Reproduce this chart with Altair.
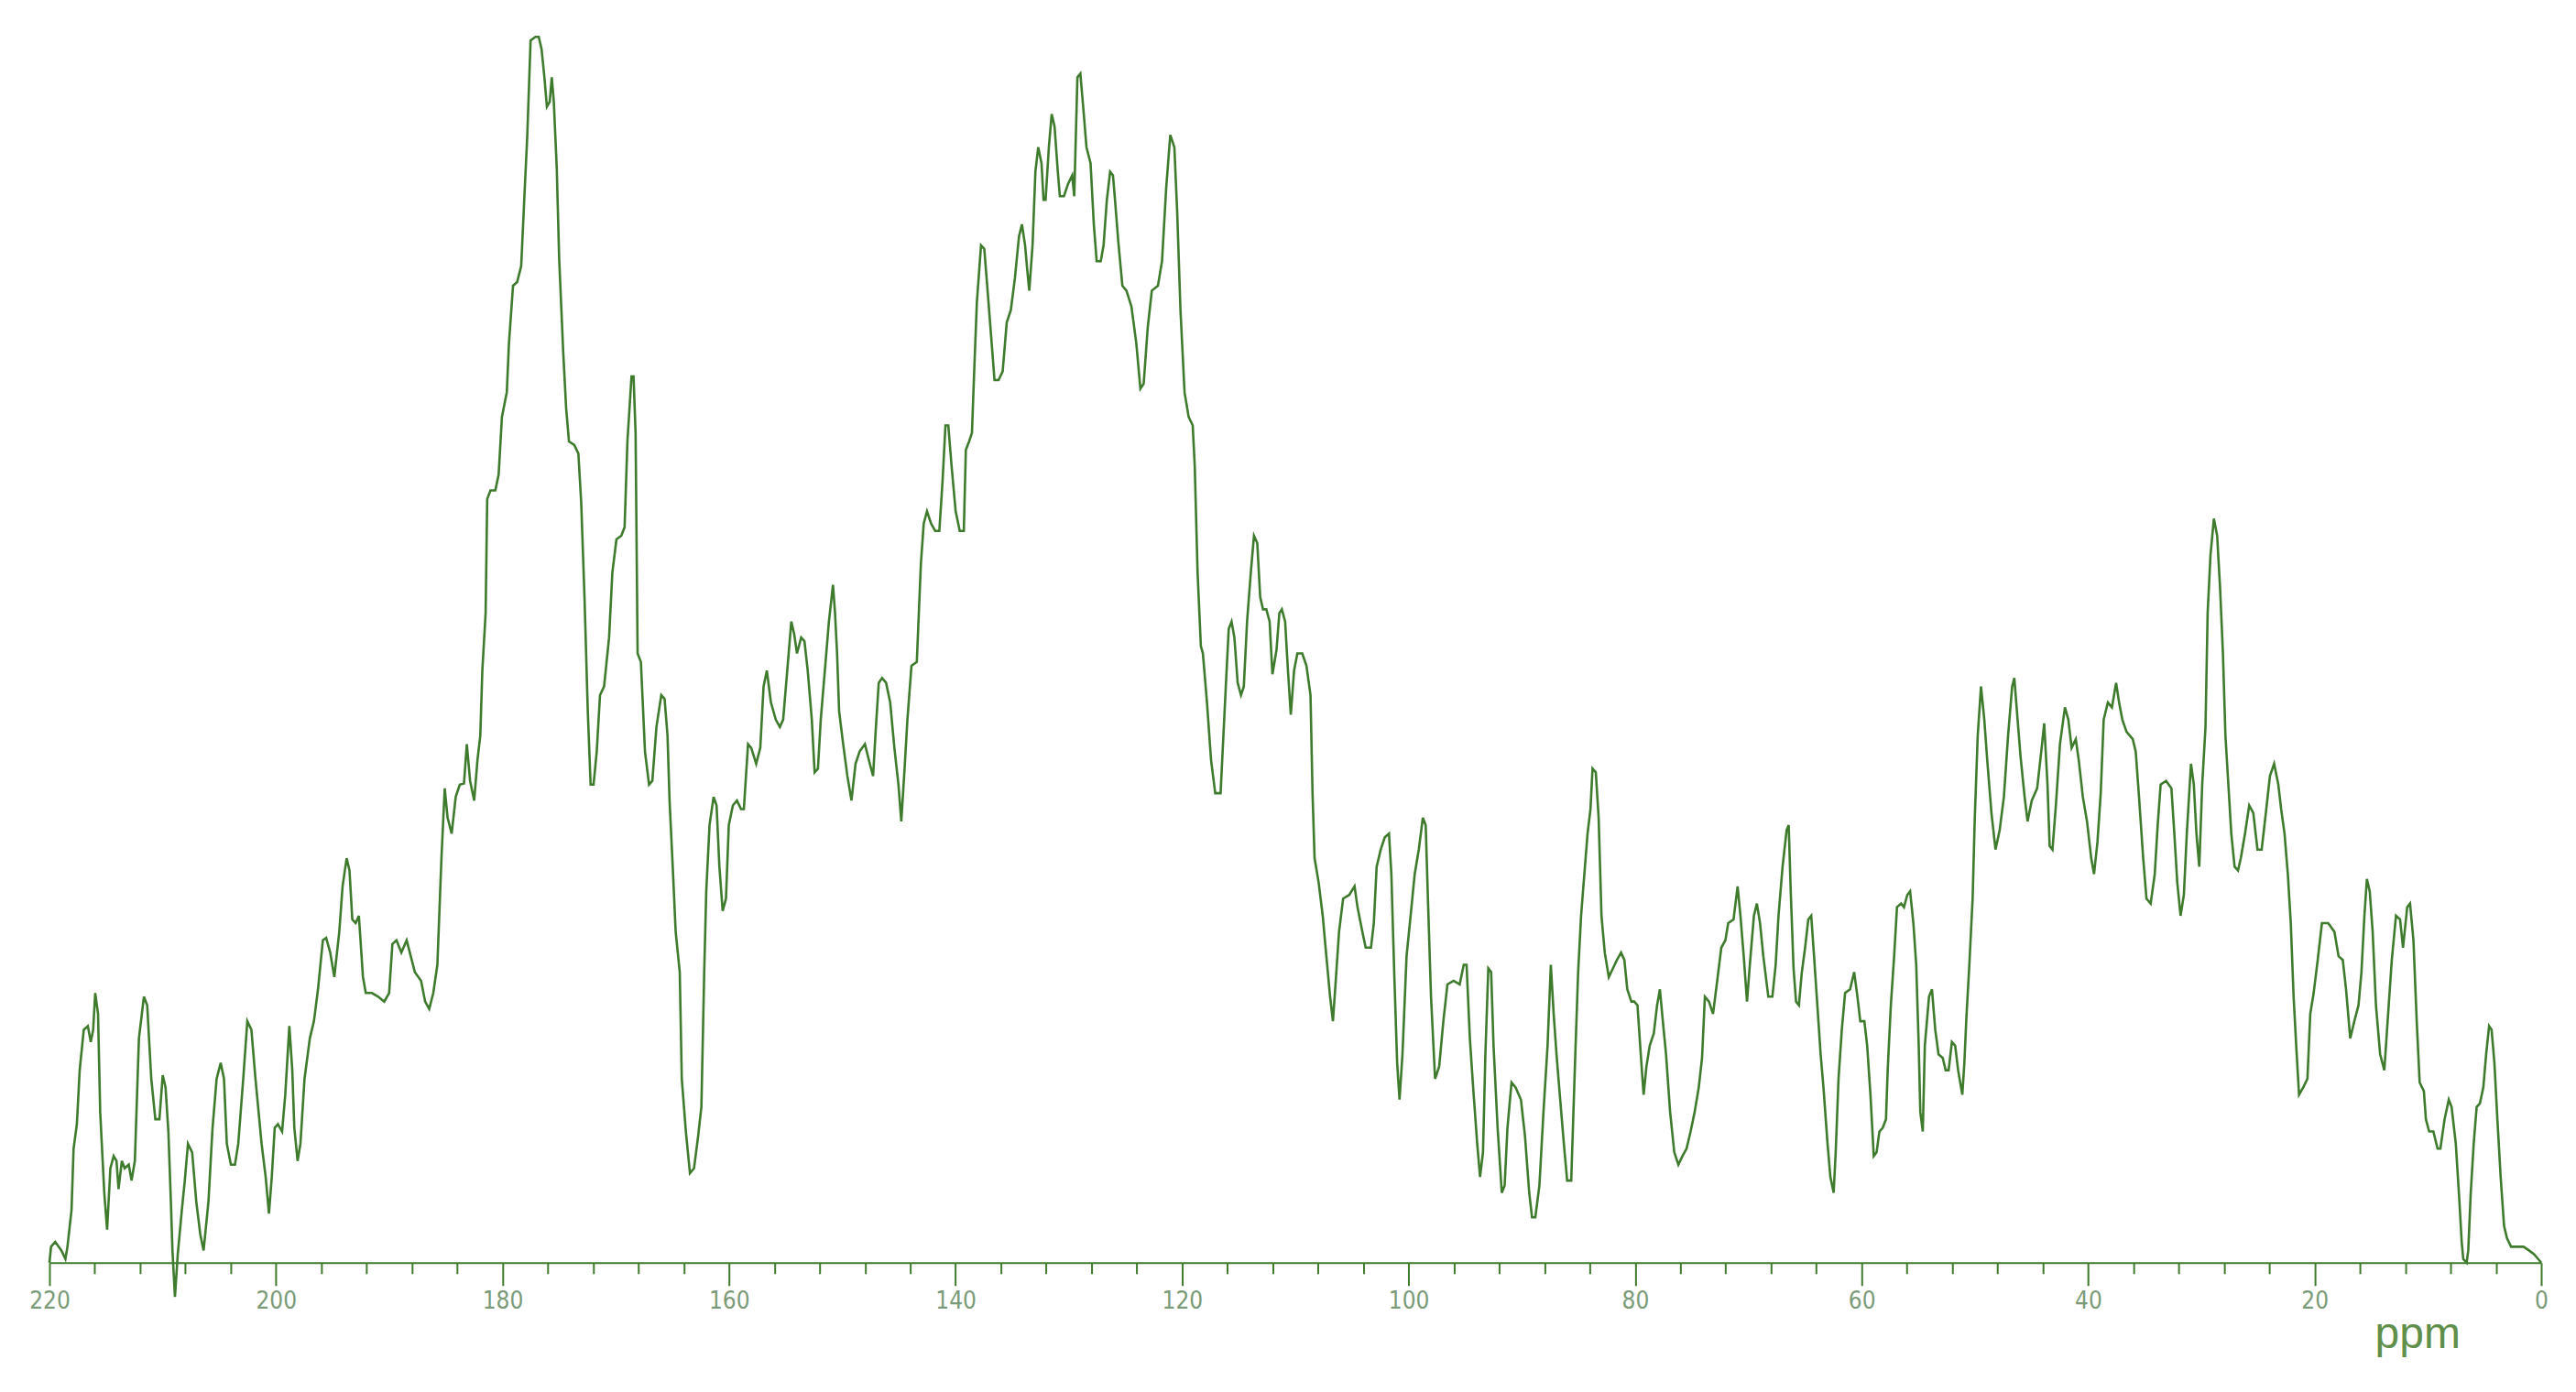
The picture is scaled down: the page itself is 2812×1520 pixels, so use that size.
import altair as alt
import pandas as pd

# 13C NMR spectrum: chemical shift (ppm) and relative intensity (%)
ppm_a = [220.0, 219.86, 219.49, 218.95, 218.59, 218.41, 218.05, 217.87, 217.58, 217.33,
         216.97, 216.61, 216.35, 216.14, 215.96, 215.71, 215.52, 215.16, 214.91, 214.62,
         214.33, 214.08, 213.90, 213.61, 213.36, 213.00, 212.75, 212.46, 212.10, 211.66,
         211.37, 211.01, 210.65, 210.29, 210.00, 209.75, 209.50, 209.28, 209.14, 208.92,
         208.67, 208.31, 208.05, 207.77, 207.40, 207.04, 206.68, 206.39, 205.96, 205.60,
         205.24, 204.88, 204.59, 204.34, 203.98, 203.62, 203.33, 202.89, 202.53, 202.17,
         201.81, 201.27, 200.91, 200.62, 200.37, 200.11, 199.83, 199.46, 199.18, 198.82,
         198.56, 198.38, 198.09, 197.84, 197.48, 197.01, 196.65, 196.29, 195.86, 195.57,
         195.21, 194.85, 194.41, 194.12, 193.76, 193.51, 193.26, 192.97, 192.68, 192.32,
         192.07, 191.53, 190.98, 190.44, 190.01, 189.72, 189.36, 188.93, 188.46, 188.10,
         187.74, 187.19, 186.83, 186.47, 186.11, 185.75, 185.39, 185.10, 184.85, 184.49,
         184.13, 183.77, 183.40, 183.15, 182.86, 182.50, 182.21, 181.96, 181.78, 181.49,
         181.35, 181.06, 180.63, 180.34, 180.05, 179.62, 179.43, 179.07, 178.71, 178.35,
         178.10, 177.81, 177.52, 177.09, 176.80, 176.55, 176.30, 176.08, 175.83, 175.65,
         175.47, 175.21, 175.00, 174.64, 174.38, 174.13, 173.66, 173.30, 173.05, 172.76,
         172.47, 172.22, 171.96, 171.68, 171.39, 171.03, 170.59, 170.30, 169.94, 169.51,
         169.22, 168.97, 168.61, 168.43, 168.25, 168.07]
int_a = [0, 1.3, 1.7, 1.0, 0.3, 1.3, 4.3, 9.3, 11.3, 15.7,
         19.0, 19.3, 18.0, 19.0, 22.0, 20.3, 12.3, 5.7, 2.7, 7.7,
         8.7, 8.3, 6.0, 8.3, 7.7, 8.0, 6.7, 8.3, 18.3, 21.7,
         21.0, 15.0, 11.7, 11.7, 15.3, 14.3, 10.7, 5.0, 1.0, -2.8,
         0.7, 4.3, 6.7, 9.7, 9.0, 5.0, 2.3, 1.0, 5.0, 11.0,
         15.0, 16.3, 15.0, 9.7, 8.0, 8.0, 9.7, 15.0, 19.7, 19.0,
         15.0, 9.7, 7.0, 4.0, 7.0, 11.0, 11.3, 10.7, 13.7, 19.3,
         15.7, 11.0, 8.3, 9.7, 15.0, 18.3, 19.7, 22.3, 26.3, 26.5,
         25.3, 23.3, 27.0, 30.7, 33.0, 32.0, 28.0, 27.7, 28.3, 23.3,
         22.0, 22.0, 21.7, 21.3, 22.0, 26.0, 26.3, 25.3, 26.3, 25.0,
         23.7, 23.0, 21.3, 20.7, 22.0, 24.3, 33.0, 38.7, 36.3, 35.0,
         38.0, 39.0, 39.1, 42.3, 39.3, 37.7, 41.0, 43.0, 48.3, 53.0,
         62.3, 63.0, 63.0, 64.3, 69.0, 71.0, 75.0, 79.7, 80.0, 81.3,
         86.3, 92.0, 99.7, 100, 100, 99.0, 96.7, 94.3, 94.7, 96.7,
         94.7, 89.3, 82.0, 74.3, 69.7, 67.0, 66.7, 66.0, 62.0, 54.3,
         45.0, 39.0, 39.0, 41.7, 46.3, 47.0, 51.0, 56.3, 59.0, 59.3,
         60.0, 67.0, 72.3, 72.3, 67.7, 49.7]

ppm_b = [167.78, 167.42, 167.06, 166.77, 166.41, 165.98, 165.69, 165.43, 165.25, 164.97,
         164.71, 164.35, 164.17, 163.81, 163.45, 163.09, 162.73, 162.44, 162.19, 162.01,
         161.72, 161.36, 161.10, 160.85, 160.56, 160.27, 160.02, 159.66, 159.30, 158.94,
         158.69, 158.32, 158.04, 157.60, 157.24, 156.95, 156.66, 156.30, 155.87, 155.51,
         155.22, 154.86, 154.50, 154.25, 154.00, 153.63, 153.34, 153.05, 152.69, 152.44,
         152.15, 151.90, 151.54, 151.18, 150.82, 150.64, 150.46, 150.28, 149.92, 149.55,
         149.19, 148.83, 148.47, 148.00, 147.57, 147.28, 147.03, 146.78, 146.49, 146.13,
         145.77, 145.40, 145.04, 144.79, 144.50, 144.25, 143.89, 143.42, 143.06, 142.81,
         142.52, 142.16, 141.80, 141.43, 141.15, 140.89, 140.64, 140.35, 139.99, 139.63,
         139.27, 139.09, 138.80, 138.55, 138.37, 138.12, 137.75, 137.46, 137.17, 136.81,
         136.56, 136.20, 135.84, 135.48, 135.12, 134.76, 134.40, 134.14, 133.86, 133.67,
         133.49, 133.20, 132.95, 132.70, 132.41, 132.23, 132.05, 131.76, 131.51, 131.26,
         130.97, 130.79, 130.43, 130.07, 129.70, 129.52, 129.24, 128.98, 128.73, 128.44,
         128.08, 127.79, 127.54, 127.18, 126.93, 126.64, 126.35, 126.10, 125.92, 125.63,
         125.27, 124.91, 124.47, 124.04, 123.68, 123.39, 123.03, 122.67, 122.13, 121.77,
         121.40, 121.04, 120.68, 120.43, 120.14, 119.78, 119.42, 119.06, 118.88, 118.63,
         118.34, 118.16, 117.80, 117.44, 117.07, 116.60, 116.35, 116.10, 115.88, 115.63,
         115.38, 115.09, 114.80, 114.55, 114.26, 113.93, 113.65, 113.36, 113.10, 112.85,
         112.56, 112.27, 112.02, 111.66, 111.41, 111.19]
int_b = [49.0, 41.7, 39.0, 39.3, 43.7, 46.3, 46.0, 43.0, 37.7, 32.3,
         27.0, 23.7, 15.0, 10.7, 7.3, 7.7, 10.3, 12.7, 23.7, 30.3,
         35.7, 38.0, 37.3, 32.3, 28.7, 29.7, 35.7, 37.3, 37.7, 37.0,
         37.0, 42.3, 42.0, 40.7, 42.0, 47.0, 48.3, 45.7, 44.3, 43.7,
         44.3, 48.3, 52.3, 51.3, 49.7, 51.0, 50.7, 48.3, 44.3, 40.0,
         40.3, 44.3, 48.3, 52.3, 55.3, 53.0, 49.7, 45.0, 42.3, 39.7,
         37.7, 40.7, 41.7, 42.3, 40.7, 39.7, 43.7, 47.3, 47.7, 47.3,
         45.7, 42.0, 39.0, 36.0, 40.3, 44.3, 48.7, 49.0, 57.0, 60.3,
         61.3, 60.3, 59.7, 59.7, 63.7, 68.3, 68.3, 65.0, 61.3, 59.7,
         59.7, 66.3, 67.0, 67.7, 72.3, 78.3, 83.0, 82.7, 79.3, 75.0,
         72.0, 72.0, 72.7, 76.7, 77.7, 80.3, 83.7, 84.7, 83.0, 81.0,
         79.3, 83.0, 89.0, 91.0, 89.7, 86.7, 86.7, 91.0, 93.7, 92.7,
         89.0, 87.0, 87.0, 88.0, 88.7, 87.0, 96.7, 97.0, 94.3, 91.0,
         89.7, 84.7, 81.7, 81.7, 83.0, 86.7, 89.0, 88.7, 86.7, 83.3,
         79.7, 79.3, 78.0, 75.0, 71.3, 71.7, 76.3, 79.3, 79.7, 81.7,
         87.7, 92.0, 91.0, 85.7, 77.7, 71.0, 69.0, 68.3, 65.0, 56.3,
         50.3, 49.7, 45.7, 41.0, 38.3, 38.3, 43.0, 47.7, 51.7, 52.3,
         51.0, 47.3, 46.3, 47.0, 52.3, 56.3, 59.3, 58.7, 54.3, 53.3,
         53.3, 52.3, 48.0, 50.0, 53.0, 53.3]

ppm_c = [110.90, 110.65, 110.40, 110.11, 109.82, 109.39, 109.02, 108.66, 108.48, 108.30,
         107.94, 107.58, 107.29, 106.93, 106.68, 106.43, 106.14, 105.78, 105.24, 104.77,
         104.51, 104.15, 103.79, 103.32, 103.07, 102.82, 102.46, 102.10, 101.73, 101.52,
         101.27, 101.01, 100.80, 100.54, 100.18, 99.82, 99.46, 99.10, 98.74, 98.49,
         98.27, 98.02, 97.66, 97.30, 96.93, 96.57, 96.03, 95.49, 95.13, 94.88,
         94.59, 94.30, 93.94, 93.69, 93.43, 93.22, 92.96, 92.71, 92.50, 92.14,
         91.77, 91.52, 91.27, 90.91, 90.55, 90.08, 89.72, 89.35, 89.10, 88.81,
         88.45, 88.09, 87.73, 87.44, 87.19, 86.94, 86.65, 86.29, 86.00, 85.64,
         85.49, 85.28, 85.03, 84.77, 84.48, 84.20, 83.94, 83.76, 83.47, 83.22,
         82.97, 82.68, 82.32, 81.96, 81.60, 81.24, 80.95, 80.69, 80.33, 80.08,
         79.79, 79.50, 79.25, 79.00, 78.71, 78.35, 78.06, 77.81, 77.55, 77.27,
         76.91, 76.54, 76.18, 75.82, 75.46, 75.10, 74.74, 74.38, 74.09, 73.84,
         73.48, 73.12, 72.75, 72.39, 72.03, 71.78, 71.31, 70.95, 70.70, 70.41,
         70.12, 69.87, 69.51, 69.25, 68.97, 68.68, 68.24, 67.88, 67.59, 67.34,
         66.98, 66.62, 66.44, 66.26, 66.01, 65.79, 65.54, 65.28, 64.99, 64.71,
         64.45, 64.20, 63.91, 63.62, 63.37, 63.01, 62.76, 62.47, 62.29, 62.04,
         61.75, 61.46, 61.02, 60.66, 60.37, 60.12, 59.76, 59.51, 59.22, 58.93,
         58.68, 58.43, 58.14, 57.85, 57.70, 57.42, 57.13, 56.88, 56.51, 56.26,
         55.97, 55.72, 55.43, 55.18, 54.96, 54.82, 54.60]
int_c = [52.3, 48.3, 44.7, 48.3, 49.7, 49.7, 48.7, 46.3, 38.3, 33.0,
         31.0, 28.3, 25.3, 21.7, 19.7, 23.0, 27.0, 29.7, 30.0, 30.7,
         29.0, 27.3, 25.7, 25.7, 27.7, 32.3, 33.7, 34.7, 35.0, 31.7,
         23.7, 16.3, 13.3, 17.0, 25.0, 28.3, 31.7, 33.7, 36.3, 35.7,
         29.0, 21.7, 15.0, 16.0, 19.7, 22.7, 23.0, 22.7, 24.3, 24.3,
         18.3, 14.3, 9.7, 7.0, 9.0, 17.0, 24.0, 23.7, 17.7, 11.0,
         5.7, 6.3, 11.0, 14.7, 14.3, 13.3, 10.3, 5.7, 3.7, 3.7,
         6.3, 12.3, 17.7, 24.3, 20.3, 17.0, 13.7, 9.7, 6.7, 6.7,
         11.0, 17.0, 23.7, 28.3, 31.7, 35.0, 37.0, 40.3, 40.0, 36.3,
         28.3, 25.3, 23.3, 24.0, 24.7, 25.3, 24.7, 22.3, 21.3, 21.3,
         21.0, 17.0, 13.7, 16.0, 17.7, 18.7, 21.0, 22.3, 19.7, 17.0,
         12.3, 9.0, 8.0, 8.7, 9.3, 10.7, 12.3, 14.3, 16.7, 21.7,
         21.3, 20.3, 23.0, 25.7, 26.3, 27.7, 28.0, 30.7, 28.3, 25.0,
         21.3, 24.3, 28.3, 29.3, 27.7, 25.0, 21.7, 21.7, 24.3, 28.3,
         32.3, 35.3, 35.7, 30.3, 24.0, 21.3, 21.0, 23.7, 25.7, 28.0,
         28.3, 25.0, 21.0, 17.0, 14.3, 9.7, 7.0, 5.7, 9.0, 15.0,
         19.0, 22.0, 22.3, 23.7, 21.7, 19.7, 19.7, 17.7, 13.7, 8.7,
         9.0, 10.7, 11.0, 11.7, 15.7, 21.0, 25.0, 29.0, 29.3, 29.0,
         30.0, 30.3, 27.7, 24.3, 17.7, 12.3, 10.7]

ppm_d = [54.42, 54.05, 53.79, 53.50, 53.21, 52.84, 52.58, 52.32, 52.03, 51.74,
         51.48, 51.11, 50.93, 50.75, 50.49, 50.20, 50.01, 49.75, 49.46, 49.17,
         48.91, 48.54, 48.18, 47.81, 47.44, 47.07, 46.71, 46.52, 46.23, 45.97,
         45.61, 45.35, 44.98, 44.50, 44.14, 43.88, 43.59, 43.40, 43.15, 42.85,
         42.49, 42.05, 41.75, 41.46, 41.09, 40.83, 40.47, 40.10, 39.73, 39.48,
         39.18, 38.89, 38.63, 38.26, 37.90, 37.53, 37.27, 36.98, 36.61, 36.06,
         35.80, 35.51, 35.14, 34.85, 34.48, 34.12, 33.86, 33.60, 33.12, 32.65,
         32.39, 32.13, 31.84, 31.55, 31.29, 30.92, 30.67, 30.44, 30.19, 29.93,
         29.64, 29.45, 29.20, 28.90, 28.61, 28.35, 28.10, 27.88, 27.62, 27.36,
         27.07, 26.77, 26.52, 26.15, 25.78, 25.42, 25.05, 24.68, 24.31, 23.95,
         23.58, 23.21, 22.96, 22.66, 22.37, 22.11, 21.86, 21.63, 21.38, 21.01,
         20.64, 20.39, 20.09, 19.73, 19.36, 18.81, 18.26, 17.89, 17.52, 17.23,
         16.86, 16.50, 16.13, 15.87, 15.61, 15.39, 15.14, 14.88, 14.59, 14.22,
         13.85, 13.56, 13.19, 12.82, 12.46, 12.20, 11.83, 11.58, 11.28, 10.99,
         10.73, 10.36, 10.18, 9.89, 9.52, 9.15, 8.90, 8.53, 8.16, 7.91,
         7.54, 7.24, 7.02, 6.88, 6.58, 6.44, 6.22, 5.96, 5.70, 5.41,
         5.11, 4.86, 4.60, 4.38, 4.13, 3.87, 3.58, 3.28, 3.02, 2.66,
         2.11, 1.56, 1.08, 0.64, 0.27, 0.0]
int_d = [17.7, 21.7, 22.3, 19.0, 17.0, 16.7, 15.7, 15.7, 18.0, 17.7,
         15.7, 13.7, 16.3, 20.0, 24.3, 29.7, 36.3, 43.0, 47.0, 44.3,
         41.0, 36.7, 33.7, 35.3, 38.0, 43.0, 47.0, 47.7, 44.3, 41.3,
         38.0, 36.0, 37.7, 38.7, 41.7, 44.0, 39.0, 34.0, 33.7, 37.3,
         42.3, 45.3, 44.3, 42.0, 42.7, 41.0, 38.0, 36.0, 33.0, 31.7,
         34.3, 38.3, 44.3, 45.7, 45.3, 47.3, 45.7, 44.3, 43.3, 42.7,
         41.7, 38.0, 33.0, 29.7, 29.3, 31.7, 35.7, 39.0, 39.3, 38.7,
         35.0, 31.0, 28.3, 30.0, 35.0, 40.7, 39.0, 35.0, 32.3, 39.0,
         43.7, 53.0, 57.7, 60.7, 59.3, 55.0, 49.7, 43.0, 39.0, 35.0,
         32.3, 32.0, 33.0, 35.0, 37.3, 36.7, 33.7, 33.7, 36.7, 39.7,
         40.7, 39.0, 37.0, 35.0, 31.7, 27.7, 21.7, 17.7, 13.7, 14.3,
         15.0, 20.3, 22.0, 24.7, 27.7, 27.7, 27.0, 25.0, 24.7, 22.3,
         18.3, 19.7, 21.0, 23.7, 28.3, 31.3, 30.3, 27.0, 21.0, 17.0,
         15.7, 19.7, 24.7, 28.3, 28.0, 25.7, 29.0, 29.3, 26.3, 19.7,
         14.7, 14.0, 11.7, 10.7, 10.7, 9.3, 9.3, 11.7, 13.3, 12.7,
         9.7, 5.3, 1.7, 0.3, 0, 1.0, 5.7, 9.7, 12.7, 13.0,
         14.3, 17.0, 19.3, 19.0, 16.3, 11.7, 7.0, 3.0, 2.0, 1.3,
         1.3, 1.3, 1.0, 0.7, 0.3, 0]

major_ticks = [220, 200, 180, 160, 140, 120, 100, 80, 60, 40, 20, 0]
minor_ticks = [v for v in range(4, 220, 4) if v % 20 != 0]

rows = []
for ps, ys in [(ppm_a, int_a), (ppm_b, int_b), (ppm_c, int_c), (ppm_d, int_d)]:
    for p, v in zip(ps, ys):
        rows.append({"ppm": p, "intensity": v})
df = pd.DataFrame(rows)
df["idx"] = range(len(df))

GREEN = "#3e7b2c"
LABEL = "#7a9a78"
TITLE = "#5f8f4a"
FONT = "Liberation Sans Narrow, DejaVu Sans Condensed, Liberation Sans, sans-serif"

xscale = alt.Scale(domain=[220, 0], nice=False, zero=False)
yscale = alt.Scale(domain=[0, 100], nice=False)

major_axis = alt.Axis(
    orient="bottom",
    values=major_ticks, format="d", grid=False,
    domain=True, domainColor=GREEN, domainWidth=2,
    ticks=True, tickColor=GREEN, tickWidth=2, tickSize=25,
    labelFont=FONT, labelFontSize=26, labelColor=LABEL, labelPadding=4,
    labelFlush=False, labelOverlap=False,
    title="ppm", titleFont="Liberation Sans, Arial, sans-serif", titleFontSize=48,
    titleFontWeight="normal", titleColor=TITLE, titleAlign="left",
    titleBaseline="alphabetic", titleX=2539, titleY=93,
)
minor_axis = alt.Axis(
    orient="bottom",
    values=minor_ticks, grid=False, domain=False, labels=False,
    ticks=True, tickColor=GREEN, tickWidth=2, tickSize=12, title=None,
)

base = alt.Chart(df)
minor = base.mark_line(strokeOpacity=0).encode(
    x=alt.X("ppm:Q", scale=xscale, axis=minor_axis),
    y=alt.Y("intensity:Q", scale=yscale, axis=None),
    order=alt.Order("idx:Q"),
)
line = base.mark_line(color=GREEN, strokeWidth=2.6, clip=False).encode(
    x=alt.X("ppm:Q", scale=xscale, axis=major_axis),
    y=alt.Y("intensity:Q", scale=yscale, axis=None),
    order=alt.Order("idx:Q"),
)

chart = (
    alt.layer(minor, line)
    .resolve_axis(x="independent")
    .properties(
        width=2721, height=1339,
        autosize=alt.AutoSizeParams(type="none"),
        padding={"left": 46, "top": 32, "right": 30, "bottom": 110},
        background="white",
    )
    .configure_view(stroke=None)
)

chart.save("out.html", embed_options={"renderer": "svg", "actions": False})
